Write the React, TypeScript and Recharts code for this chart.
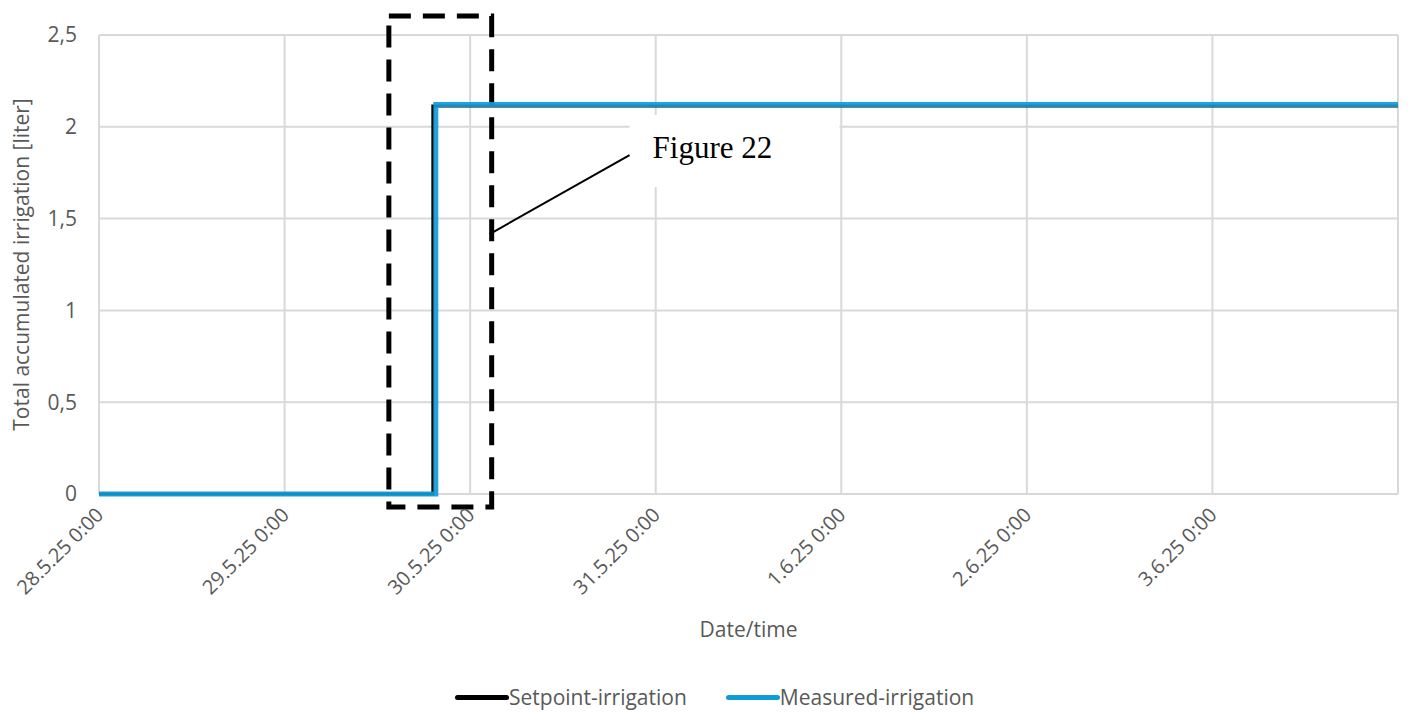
import React from 'react';
import {
    LineChart,
    Line,
    XAxis,
    YAxis,
    CartesianGrid,
    ReferenceArea,
    ReferenceLine,
} from 'recharts';

// x values are days since 28.5.25 0:00
const setpointDays = [0, 1.799, 1.799, 7];
const setpointLiters = [0, 0, 2.113, 2.113];
const measuredDays = [0, 1.815, 1.815, 7];
const measuredLiters = [0, 0, 2.122, 2.122];

const dayTicks = [0, 1, 2, 3, 4, 5, 6];
const dayLabels = [
    '28.5.25 0:00',
    '29.5.25 0:00',
    '30.5.25 0:00',
    '31.5.25 0:00',
    '1.6.25 0:00',
    '2.6.25 0:00',
    '3.6.25 0:00',
];
const literTicks = [0, 0.5, 1, 1.5, 2, 2.5];

const setpointData = setpointDays.map((d, i) => ({ day: d, value: setpointLiters[i] }));
const measuredData = measuredDays.map((d, i) => ({ day: d, value: measuredLiters[i] }));

const FONT = '"Open Sans", "Liberation Sans", sans-serif';
const TEXT = '#595959';
const GRID = '#d9d9d9';
const BLUE = '#0f9bd7';

const AngledTick = ({ x, y, payload }: any) => (
    <text
        x={x}
        y={y}
        transform={`rotate(-45 ${x} ${y})`}
        textAnchor="end"
        dx={-6}
        dy={14}
        fontSize={20}
        fill={TEXT}
        fontFamily={FONT}
    >
        {dayLabels[dayTicks.indexOf(payload.value)]}
    </text>
);

const FigureLabel = ({ viewBox }: any) => (
    <text
        x={viewBox.x + 23}
        y={viewBox.y + 43}
        fontSize={31}
        fill="#000"
        fontFamily='"Liberation Serif", "Times New Roman", serif'
    >
        Figure 22
    </text>
);

export default function App() {
    return (
        <div style={{ position: 'absolute', left: 0, top: 0, width: 1416, height: 725, background: '#fff' }}>
            <LineChart
                width={1416}
                height={725}
                margin={{ top: 35, right: 18, left: 0, bottom: 0 }}
            >
                <CartesianGrid stroke={GRID} strokeWidth={2} />
                <XAxis
                    type="number"
                    dataKey="day"
                    domain={[0, 7]}
                    ticks={dayTicks}
                    tick={<AngledTick />}
                    tickLine={false}
                    axisLine={false}
                    height={231}
                    label={{
                        value: 'Date/time',
                        position: 'insideTop',
                        offset: 128,
                        fontSize: 21,
                        fill: TEXT,
                        fontFamily: FONT,
                    }}
                    allowDuplicatedCategory={false}
                />
                <YAxis
                    type="number"
                    domain={[0, 2.5]}
                    ticks={literTicks}
                    tickFormatter={(v) => String(v).replace('.', ',')}
                    tick={{ fontSize: 21, fill: TEXT, fontFamily: FONT, dx: -14 }}
                    tickLine={false}
                    axisLine={false}
                    width={99}
                    label={{
                        value: 'Total accumulated irrigation [liter]',
                        angle: -90,
                        position: 'insideLeft',
                        offset: 22,
                        style: { textAnchor: 'middle' },
                        fontSize: 21,
                        fill: TEXT,
                        fontFamily: FONT,
                    }}
                />
                <ReferenceArea
                    x1={2.859}
                    x2={3.99}
                    y1={1.672}
                    y2={2.064}
                    fill="#fff"
                    fillOpacity={1}
                    stroke="none"
                    ifOverflow="visible"
                    label={<FigureLabel />}
                />
                <Line
                    data={setpointData}
                    dataKey="value"
                    type="linear"
                    stroke="#000"
                    strokeWidth={3}
                    dot={false}
                    isAnimationActive={false}
                    name="Setpoint-irrigation"
                />
                <Line
                    data={measuredData}
                    dataKey="value"
                    type="linear"
                    stroke={BLUE}
                    strokeOpacity={0.92}
                    strokeWidth={5}
                    dot={false}
                    isAnimationActive={false}
                    name="Measured-irrigation"
                />
                <ReferenceArea
                    x1={1.562}
                    x2={2.116}
                    y1={-0.071}
                    y2={2.603}
                    fill="none"
                    stroke="#000"
                    strokeWidth={5}
                    strokeDasharray="22 12"
                    ifOverflow="visible"
                />
                <ReferenceLine
                    segment={[
                        { x: 2.105, y: 1.416 },
                        { x: 2.859, y: 1.846 },
                    ]}
                    stroke="#000"
                    strokeWidth={2}
                    ifOverflow="visible"
                />
            </LineChart>
            <div
                style={{
                    position: 'absolute',
                    top: 683,
                    left: 455,
                    display: 'flex',
                    alignItems: 'center',
                    fontFamily: FONT,
                    fontSize: 21,
                    color: TEXT,
                    whiteSpace: 'nowrap',
                }}
            >
                <span style={{ display: 'inline-block', width: 54, height: 5, borderRadius: 3, background: '#000' }} />
                <span style={{ marginRight: 39 }}>Setpoint-irrigation</span>
                <span style={{ display: 'inline-block', width: 54, height: 5, borderRadius: 3, background: BLUE }} />
                <span>Measured-irrigation</span>
            </div>
        </div>
    );
}
